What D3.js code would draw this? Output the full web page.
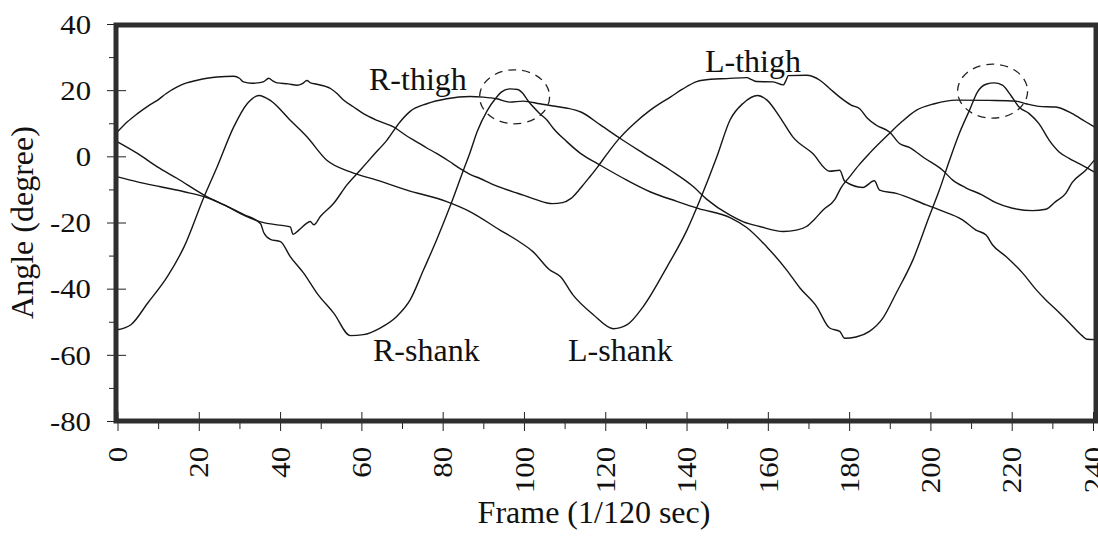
<!DOCTYPE html>
<html>
<head>
<meta charset="utf-8">
<script src="https://cdn.jsdelivr.net/npm/d3@7"></script>
<style>
  html, body { margin: 0; padding: 0; background: #fff; }
  svg { display: block; }
  text { font-family: "Liberation Serif", "Times New Roman", serif; fill: #111; }
</style>
</head>
<body>
<svg id="chart" width="1098" height="537"></svg>
<script>
// Joint angles over one gait recording, sampled as [frame, angle in degrees]
const rThigh = [[0,-6.2],[4.9,-7.7],[10.6,-9.2],[16.4,-10.7],[21.3,-12.2],[26.2,-14.7],[31.1,-17.8],[35.2,-19.8],[39.3,-20.7],[42.5,-21.3],[43.2,-23.6],[44.6,-22.3],[46.6,-20.2],[47.4,-19.7],[48.3,-20.7],[49.9,-18.2],[53.2,-14.2],[56.4,-8.7],[59.7,-4.2],[63,0.4],[66.3,4.9],[69.5,10.4],[72,13.6],[76.1,15.9],[81,17.4],[86.7,18.1],[90,17.9],[93.3,17.4],[96.5,16.4],[99.8,16.7],[103.9,15.9],[107.2,15.2],[110.4,14.6],[114,13.4],[118.8,9.5],[123.7,5.4],[129.4,0.9],[136,-4.2],[141.7,-9.2],[145,-13],[150.7,-17.8],[154,-19.8],[158,-21.2],[163.8,-22.7],[167,-22.3],[169.5,-21.2],[171.5,-19],[173.6,-16.2],[176.5,-13],[178,-9.5],[180.1,-6.2],[182.5,-2.5],[185,0.9],[189.9,6.9],[193,10.5],[196.5,13.9],[201,15.9],[206.3,17],[214.5,16.9],[221,16.7],[223.5,15.9],[226.7,15.1],[230.8,14.9],[234.9,12.9],[238,10.6],[241,8.4]];

const lThigh = [[0,7.4],[2.5,10.5],[4.9,12.9],[7.5,15.2],[9.8,16.9],[12,19],[14.7,21],[17,22.2],[19.6,23],[22,23.6],[24.5,24],[28.6,24.2],[30,23.6],[31,22.5],[33,22.1],[34.4,22.2],[36,22.6],[37.2,23.6],[38.2,22.8],[39.3,22.2],[42,21.9],[44.2,21.5],[45.5,22],[46.6,22.9],[47.5,22.2],[49,21.8],[52.4,20.5],[54,19],[55.6,17],[58,15],[60.5,12.9],[64,10.8],[67.9,8.9],[71,6.3],[73.6,4.4],[76,2.6],[78.5,0.9],[81.5,-1.4],[84.3,-3.7],[87,-5.6],[89.2,-6.7],[92,-8.3],[94.9,-9.7],[97.5,-10.8],[99.8,-11.7],[103,-13.1],[107,-14.3],[109.5,-14],[111.5,-12.8],[114,-9.5],[116,-6.5],[118,-3.4],[120.5,0.8],[123.3,5.2],[127,9.8],[131,13.9],[133.5,16],[136,17.9],[139,20.3],[142.5,22.6],[146,23.3],[149.9,23.5],[154.8,23.8],[156,23.2],[157.2,22.6],[161.3,22.5],[163.8,21.6],[164.5,23],[165,24.4],[169.5,24.5],[172.8,23],[175.2,20.5],[177.7,17.9],[180.5,15.5],[182.6,14.4],[184.5,11.5],[186.7,9.4],[190,7.3],[192.4,3.9],[194.8,2.7],[198.5,-0.5],[203,-4.2],[205.5,-7.2],[208.7,-9.5],[212.8,-11.7],[216.1,-14],[220.2,-15.7],[225.1,-16.4],[228.4,-16],[230.8,-13.7],[233.3,-11.2],[234.9,-7.9],[238.2,-4.2],[241,-0.1]];

const rShank = [[0,4.4],[4.9,0.9],[9.8,-3.2],[14.7,-6.7],[21.3,-11.7],[26.2,-14.7],[31.1,-17.6],[35.2,-20.4],[36,-23.1],[37.6,-25.1],[40.1,-25.8],[42.5,-30.3],[45.8,-35.3],[49.1,-41.4],[53.2,-47.4],[57.3,-54.2],[60.5,-53.9],[64.6,-51.9],[68.7,-48.4],[72,-43.4],[75.3,-34.3],[78.5,-25.3],[81.8,-15.2],[85.1,-4.2],[86.7,1],[88.5,7.5],[91,13.9],[93,17.5],[94.5,19.5],[96.5,20.4],[98.5,20.2],[99.6,19.2],[101,16.8],[103.9,12.9],[105.7,10.9],[107.2,8.5],[110.4,4.6],[113.9,0.9],[118.8,-2.7],[125.3,-7.2],[131,-10.7],[137.6,-13.6],[143,-15.8],[150.7,-18.5],[154.8,-21.5],[159.7,-27.3],[164.6,-34.3],[167.9,-39.8],[172,-45.4],[175.2,-51.9],[177.7,-52.9],[178.9,-55],[181.7,-54.6],[185,-52.9],[188.3,-48.9],[191.6,-41.3],[195.7,-31.3],[199.7,-18.2],[202.2,-10.2],[204.7,-1.2],[207.1,6.9],[209.6,13.9],[211.6,19.5],[213.7,21.8],[215.7,22.2],[217.7,21.5],[219.8,18.4],[221.8,14.9],[224.3,12.9],[226.7,9.9],[229.2,4.9],[231.6,1.4],[234.1,-0.6],[236.6,-2.2],[241,-5.2]];

const lShank = [[0,-52.4],[3.3,-50.9],[7.4,-44.4],[12.3,-36.3],[16.4,-27.3],[21.3,-12.2],[24.5,-3.2],[28.6,8.9],[31.9,15.9],[34.8,18.4],[37.6,16.9],[42.5,10.9],[46.6,5.9],[51.5,-1.2],[57.3,-4.7],[63.8,-7.2],[71.2,-10.2],[81,-13.7],[86.7,-16.7],[94.1,-22.3],[98.2,-25.3],[102.2,-28.8],[106.3,-34.3],[109,-36.4],[112,-41.8],[117,-47.8],[122,-52.1],[125.4,-50.9],[129.3,-45.5],[135.2,-33.4],[140.1,-22.3],[143.3,-13.2],[147.5,0],[150.7,11],[153.9,16],[157.5,18.4],[159.8,17],[163,11.8],[166.2,5.8],[171,0.9],[175.2,-4.5],[177.7,-4.2],[178.9,-7.5],[183.4,-9.4],[186.2,-7.4],[187.5,-10.2],[191.6,-11.2],[199,-14.7],[202.2,-16.2],[207.9,-19.2],[211.2,-22.3],[213.7,-23.8],[215.3,-26.8],[218.6,-30.3],[222.7,-35.3],[226,-40.3],[228.4,-43.4],[230.9,-46.3],[234.1,-50.2],[237.3,-54.2],[238.5,-55.3],[241,-55.4]];

// Shank peaks ringed with dashed ellipses: [frame, angle]
const ringedPeaks = [[97.7, 18.0], [215.3, 19.7]];

// Axis ticks
const frameTicks = d3.range(0, 241, 20);
const frameMinorTicks = d3.range(10, 240, 20);
const angleTicks = d3.range(-80, 41, 20);
const angleMinorTicks = d3.range(-70, 40, 20);

// Curve names, written next to the curves
const seriesNames = ["R-thigh", "L-thigh", "R-shank", "L-shank"];

// ---- layout ----
const W = 1098, H = 537;
const FONT = '"Liberation Serif", "Times New Roman", serif';
const plot = { left: 116, top: 25, right: 1096, bottom: 421 };
const nameSpots = [[369, 90], [705, 72], [373, 361], [568, 361]];
const ringRx = 35, ringRy = 27;

const svg = d3.select("#chart");
svg.append("rect").attr("width", W).attr("height", H).attr("fill", "#fff");

const x = d3.scaleLinear().domain([0, 240]).range([117.5, 1093]);
const y = d3.scaleLinear().domain([-80, 40]).range([421, 24]);

// clip the traces to the frame
svg.append("clipPath").attr("id", "plotClip")
  .append("rect")
  .attr("x", plot.left).attr("y", plot.top)
  .attr("width", plot.right - plot.left).attr("height", plot.bottom - plot.top);

const line = d3.line()
  .x(d => x(d[0]))
  .y(d => y(d[1]))
  .curve(d3.curveMonotoneX);

const traces = svg.append("g").attr("clip-path", "url(#plotClip)");
[rThigh, lThigh, rShank, lShank].forEach(s => {
  traces.append("path")
    .attr("d", line(s))
    .attr("fill", "none")
    .attr("stroke", "#161616")
    .attr("stroke-width", 1.4)
    .attr("stroke-linejoin", "round");
});

// dashed rings around the shank peaks
svg.append("g").selectAll("ellipse")
  .data(ringedPeaks)
  .join("ellipse")
  .attr("cx", d => x(d[0]))
  .attr("cy", d => y(d[1]))
  .attr("rx", ringRx)
  .attr("ry", ringRy)
  .attr("fill", "none")
  .attr("stroke", "#222")
  .attr("stroke-width", 1.3)
  .attr("stroke-dasharray", "8,6");

// curve names
svg.append("g").selectAll("text")
  .data(seriesNames)
  .join("text")
  .attr("x", (d, i) => nameSpots[i][0])
  .attr("y", (d, i) => nameSpots[i][1])
  .style("font-family", FONT)
  .style("font-size", "32px")
  .text(d => d);

// stretch tick numerals slightly wider than the face's default
function widen(sel, k) {
  sel.each(function () {
    const w = this.getComputedTextLength();
    d3.select(this).attr("textLength", w * k).attr("lengthAdjust", "spacingAndGlyphs");
  });
}

// y axis: major ticks cross the frame, minor ticks sit outside
const yMinor = svg.append("g")
  .attr("transform", `translate(${plot.left},0)`)
  .call(d3.axisLeft(y).tickValues(angleMinorTicks).tickSizeInner(7).tickSizeOuter(0).tickFormat(""));
yMinor.select(".domain").remove();
yMinor.selectAll(".tick line").attr("stroke", "#222");

const yAxis = svg.append("g")
  .attr("transform", `translate(${plot.left},0)`)
  .call(d3.axisLeft(y).tickValues(angleTicks).tickSizeInner(9).tickSizeOuter(0)
    .tickPadding(16).tickFormat(d => String(d)));
yAxis.select(".domain").remove();
yAxis.selectAll(".tick line").attr("x1", 10).attr("stroke", "#222");
yAxis.selectAll(".tick text")
  .style("font-family", FONT).style("font-size", "27px")
  .attr("dy", "0.34em")
  .call(widen, 1.14);

// x axis: rotated frame numbers
const xMinor = svg.append("g")
  .attr("transform", `translate(0,${plot.bottom})`)
  .call(d3.axisBottom(x).tickValues(frameMinorTicks).tickSizeInner(8).tickSizeOuter(0).tickFormat(""));
xMinor.select(".domain").remove();
xMinor.selectAll(".tick line").attr("stroke", "#222");

const xAxis = svg.append("g")
  .attr("transform", `translate(0,${plot.bottom})`)
  .call(d3.axisBottom(x).tickValues(frameTicks).tickSizeInner(10).tickSizeOuter(0)
    .tickFormat(d => String(d)));
xAxis.select(".domain").remove();
xAxis.selectAll(".tick line").attr("y1", -9).attr("stroke", "#222");
xAxis.selectAll(".tick text")
  .style("font-family", FONT).style("font-size", "27px")
  .attr("transform", "rotate(-90)")
  .attr("x", -26).attr("y", 0)
  .attr("dy", "0.34em")
  .attr("text-anchor", "end")
  .call(widen, 1.14);

svg.selectAll(".tick text").attr("fill", "#111");

// heavy frame around the plotting area
svg.append("rect")
  .attr("x", plot.left).attr("y", plot.top)
  .attr("width", plot.right - plot.left).attr("height", plot.bottom - plot.top)
  .attr("fill", "none")
  .attr("stroke", "#2e2e2e")
  .attr("stroke-width", 5);

// axis titles
svg.append("text")
  .attr("transform", "translate(33,222.5) rotate(-90)")
  .attr("text-anchor", "middle")
  .style("font-family", FONT)
  .style("font-size", "32px")
  .text("Angle (degree)");

svg.append("text")
  .attr("x", 594).attr("y", 523)
  .attr("text-anchor", "middle")
  .style("font-family", FONT)
  .style("font-size", "32px")
  .text("Frame (1/120 sec)");
</script>
</body>
</html>
